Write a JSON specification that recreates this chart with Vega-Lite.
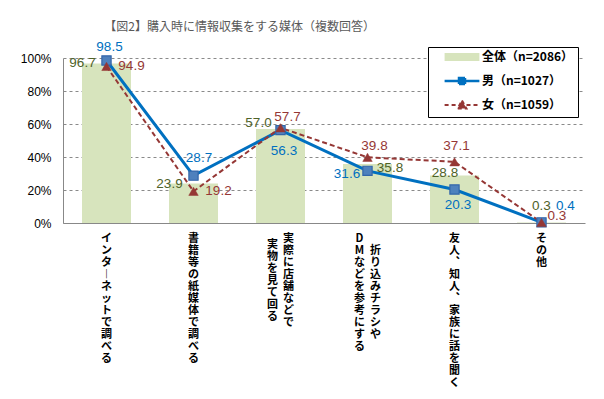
{
  "$schema": "https://vega.github.io/schema/vega-lite/v6.json",
  "width": 522,
  "height": 165,
  "autosize": {"type": "none"},
  "padding": {"left": 63, "top": 58, "right": 19, "bottom": 176},
  "background": "white",
  "title": {
    "text": "【図2】購入時に情報収集をする媒体（複数回答）",
    "anchor": "start",
    "dx": 84,
    "offset": 6,
    "font": "Noto Sans CJK JP",
    "fontSize": 12,
    "fontWeight": "normal",
    "color": "#595959"
  },
  "config": {"view": {"stroke": null}},
  "datasets": {
    "main": [
      {"cat": "インターネットで調べる", "series": "全体", "value": 96.7},
      {"cat": "書籍等の紙媒体で調べる", "series": "全体", "value": 23.9},
      {"cat": "実際に店舗などで実物を見て回る", "series": "全体", "value": 57.0},
      {"cat": "折り込みチラシやDMなどを参考にする", "series": "全体", "value": 35.8},
      {"cat": "友人、知人、家族に話を聞く", "series": "全体", "value": 28.8},
      {"cat": "その他", "series": "全体", "value": 0.3},
      {"cat": "インターネットで調べる", "series": "男", "value": 98.5},
      {"cat": "書籍等の紙媒体で調べる", "series": "男", "value": 28.7},
      {"cat": "実際に店舗などで実物を見て回る", "series": "男", "value": 56.3},
      {"cat": "折り込みチラシやDMなどを参考にする", "series": "男", "value": 31.6},
      {"cat": "友人、知人、家族に話を聞く", "series": "男", "value": 20.3},
      {"cat": "その他", "series": "男", "value": 0.4},
      {"cat": "インターネットで調べる", "series": "女", "value": 94.9},
      {"cat": "書籍等の紙媒体で調べる", "series": "女", "value": 19.2},
      {"cat": "実際に店舗などで実物を見て回る", "series": "女", "value": 57.7},
      {"cat": "折り込みチラシやDMなどを参考にする", "series": "女", "value": 39.8},
      {"cat": "友人、知人、家族に話を聞く", "series": "女", "value": 37.1},
      {"cat": "その他", "series": "女", "value": 0.3}
    ],
    "catlabels": [
      {"cat": "インターネットで調べる", "col1": "インターネットで調べる", "col2": ""},
      {"cat": "書籍等の紙媒体で調べる", "col1": "書籍等の紙媒体で調べる", "col2": ""},
      {"cat": "実際に店舗などで実物を見て回る", "col1": "実際に店舗などで", "col2": "実物を見て回る"},
      {"cat": "折り込みチラシやDMなどを参考にする", "col1": "折り込みチラシや", "col2": "DMなどを参考にする"},
      {"cat": "友人、知人、家族に話を聞く", "col1": "友人、知人、家族に話を聞く", "col2": ""},
      {"cat": "その他", "col1": "その他", "col2": ""}
    ]
  },
  "data": {"name": "main"},
  "encoding": {
    "x": {
      "field": "cat",
      "type": "nominal",
      "scale": {
        "domain": ["インターネットで調べる", "書籍等の紙媒体で調べる", "実際に店舗などで実物を見て回る", "折り込みチラシやDMなどを参考にする", "友人、知人、家族に話を聞く", "その他"],
        "paddingInner": 0.437,
        "paddingOuter": 0.2185
      },
      "axis": {"title": null, "labels": false, "ticks": false, "grid": false, "domainColor": "#888888", "domainWidth": 1}
    },
    "y": {
      "field": "value",
      "type": "quantitative",
      "scale": {"domain": [0, 100], "nice": false},
      "axis": {
        "title": null,
        "values": [0, 20, 40, 60, 80, 100],
        "labelExpr": "datum.value + '%'",
        "ticks": false,
        "labelPadding": 12,
        "labelFont": "Liberation Sans",
        "labelFontSize": 12,
        "labelColor": "#000000",
        "domainColor": "#888888",
        "grid": true,
        "gridDash": [3, 3],
        "gridColor": "#8a8a8a"
      }
    }
  },
  "layer": [
    {
      "transform": [{"filter": "datum.series == '全体'"}],
      "mark": {"type": "bar"},
      "encoding": {
        "color": {
          "field": "series",
          "type": "nominal",
          "scale": {"domain": ["全体", "男", "女"], "range": ["#D7E4BD", "#0070C0", "#953735"]},
          "legend": {
            "title": null,
            "orient": "none",
            "legendX": 365,
            "legendY": -11,
            "padding": 4,
            "rowPadding": 7,
            "symbolSize": 144,
            "labelOffset": 38,
            "labelFont": "Noto Sans CJK JP",
            "labelFontSize": 12,
            "labelFontWeight": "bold",
            "labelColor": "#000000",
            "labelLimit": 300,
            "fillColor": "#ffffff",
            "strokeColor": "#000000",
            "labelExpr": "datum.label == '全体' ? '全体（n=2086）' : datum.label == '男' ? '男（n=1027）' : '女（n=1059）'",
            "encode": {
              "symbols": {
                "update": {
                  "shape": {"signal": "datum.value == '全体' ? 'M1.1,-0.67H6.9V0.67H1.1Z' : datum.value == '男' ? 'M1.1,0H3.5M4.5,0H6.9M3.5,-0.5H4.5V0.5H3.5Z' : 'M1.1,0H3.25M4.75,0H6.9M4,-0.75L4.75,0.6H3.25Z'"},
                  "size": {"value": 144},
                  "fill": {"signal": "datum.value == '全体' ? '#D7E4BD' : datum.value == '男' ? '#4F81BD' : '#953735'"},
                  "stroke": {"signal": "datum.value == '全体' ? 'transparent' : datum.value == '男' ? '#0070C0' : '#953735'"},
                  "strokeWidth": {"signal": "datum.value == '男' ? 2.5 : 2"},
                  "strokeDash": {"signal": "datum.value == '女' ? [4, 3] : [1, 0]"},
                  "opacity": {"value": 1},
                  "fillOpacity": {"value": 1}
                }
              }
            }
          }
        }
      }
    },
    {
      "transform": [{"filter": "datum.series == '男'"}],
      "mark": {"type": "line", "color": "#0070C0", "strokeWidth": 3},
      "encoding": {}
    },
    {
      "transform": [{"filter": "datum.series == '女'"}],
      "mark": {"type": "line", "color": "#953735", "strokeWidth": 2, "strokeDash": [5, 3]},
      "encoding": {}
    },
    {
      "transform": [{"filter": "datum.series == '男'"}],
      "mark": {"type": "point", "shape": "square", "size": 85, "fill": "#4F81BD", "stroke": "#3366AA", "strokeWidth": 1.2, "opacity": 1},
      "encoding": {}
    },
    {
      "transform": [{"filter": "datum.series == '女'"}],
      "mark": {"type": "point", "shape": "triangle-up", "size": 90, "fill": "#953735", "stroke": "#953735", "strokeWidth": 0.5, "opacity": 1},
      "encoding": {}
    },
    {
      "transform": [{"filter": "datum.series == '全体' && (datum.cat == 'インターネットで調べる' || datum.cat == '書籍等の紙媒体で調べる')"}],
      "mark": {"type": "text", "font": "Liberation Sans", "fontSize": 13.5, "color": "#4F6228", "dx": -24, "dy": 0},
      "encoding": {"text": {"field": "value", "type": "quantitative", "format": ".1f"}}
    },
    {
      "transform": [{"filter": "datum.series == '全体' && datum.cat == '実際に店舗などで実物を見て回る'"}],
      "mark": {"type": "text", "font": "Liberation Sans", "fontSize": 13.5, "color": "#4F6228", "dx": -22, "dy": -6},
      "encoding": {"text": {"field": "value", "type": "quantitative", "format": ".1f"}}
    },
    {
      "transform": [{"filter": "datum.series == '全体' && datum.cat == '折り込みチラシやDMなどを参考にする'"}],
      "mark": {"type": "text", "font": "Liberation Sans", "fontSize": 13.5, "color": "#4F6228", "dx": 22.5, "dy": 4},
      "encoding": {"text": {"field": "value", "type": "quantitative", "format": ".1f"}}
    },
    {
      "transform": [{"filter": "datum.series == '全体' && datum.cat == '友人、知人、家族に話を聞く'"}],
      "mark": {"type": "text", "font": "Liberation Sans", "fontSize": 13.5, "color": "#4F6228", "dx": -9.5, "dy": -2.5},
      "encoding": {"text": {"field": "value", "type": "quantitative", "format": ".1f"}}
    },
    {
      "transform": [{"filter": "datum.series == '全体' && datum.cat == 'その他'"}],
      "mark": {"type": "text", "font": "Liberation Sans", "fontSize": 13.5, "color": "#4F6228", "dx": 0, "dy": -16.5},
      "encoding": {"text": {"field": "value", "type": "quantitative", "format": ".1f"}}
    },
    {
      "transform": [{"filter": "datum.series == '男' && datum.cat == 'インターネットで調べる'"}],
      "mark": {"type": "text", "font": "Liberation Sans", "fontSize": 13.5, "color": "#0070C0", "dx": 3, "dy": -13.5},
      "encoding": {"text": {"field": "value", "type": "quantitative", "format": ".1f"}}
    },
    {
      "transform": [{"filter": "datum.series == '男' && datum.cat == '書籍等の紙媒体で調べる'"}],
      "mark": {"type": "text", "font": "Liberation Sans", "fontSize": 13.5, "color": "#0070C0", "dx": 5.5, "dy": -17.5},
      "encoding": {"text": {"field": "value", "type": "quantitative", "format": ".1f"}}
    },
    {
      "transform": [{"filter": "datum.series == '男' && datum.cat == '実際に店舗などで実物を見て回る'"}],
      "mark": {"type": "text", "font": "Liberation Sans", "fontSize": 13.5, "color": "#0070C0", "dx": 3.5, "dy": 21},
      "encoding": {"text": {"field": "value", "type": "quantitative", "format": ".1f"}}
    },
    {
      "transform": [{"filter": "datum.series == '男' && datum.cat == '折り込みチラシやDMなどを参考にする'"}],
      "mark": {"type": "text", "font": "Liberation Sans", "fontSize": 13.5, "color": "#0070C0", "dx": -20.5, "dy": 3},
      "encoding": {"text": {"field": "value", "type": "quantitative", "format": ".1f"}}
    },
    {
      "transform": [{"filter": "datum.series == '男' && datum.cat == '友人、知人、家族に話を聞く'"}],
      "mark": {"type": "text", "font": "Liberation Sans", "fontSize": 13.5, "color": "#0070C0", "dx": 3.5, "dy": 15.5},
      "encoding": {"text": {"field": "value", "type": "quantitative", "format": ".1f"}}
    },
    {
      "transform": [{"filter": "datum.series == '男' && datum.cat == 'その他'"}],
      "mark": {"type": "text", "font": "Liberation Sans", "fontSize": 13.5, "color": "#0070C0", "dx": 24, "dy": -16},
      "encoding": {"text": {"field": "value", "type": "quantitative", "format": ".1f"}}
    },
    {
      "transform": [{"filter": "datum.series == '女' && (datum.cat == 'インターネットで調べる' || datum.cat == '書籍等の紙媒体で調べる')"}],
      "mark": {"type": "text", "font": "Liberation Sans", "fontSize": 13.5, "color": "#953735", "dx": 25, "dy": 0},
      "encoding": {"text": {"field": "value", "type": "quantitative", "format": ".1f"}}
    },
    {
      "transform": [{"filter": "datum.series == '女' && (datum.cat == '実際に店舗などで実物を見て回る' || datum.cat == '折り込みチラシやDMなどを参考にする')"}],
      "mark": {"type": "text", "font": "Liberation Sans", "fontSize": 13.5, "color": "#953735", "dx": 7, "dy": -11},
      "encoding": {"text": {"field": "value", "type": "quantitative", "format": ".1f"}}
    },
    {
      "transform": [{"filter": "datum.series == '女' && datum.cat == '友人、知人、家族に話を聞く'"}],
      "mark": {"type": "text", "font": "Liberation Sans", "fontSize": 13.5, "color": "#953735", "dx": 2, "dy": -16},
      "encoding": {"text": {"field": "value", "type": "quantitative", "format": ".1f"}}
    },
    {
      "transform": [{"filter": "datum.series == '女' && datum.cat == 'その他'"}],
      "mark": {"type": "text", "font": "Liberation Sans", "fontSize": 13.5, "color": "#953735", "dx": 15.5, "dy": -6.5},
      "encoding": {"text": {"field": "value", "type": "quantitative", "format": ".1f"}}
    },
    {
      "transform": [
        {"filter": "datum.series == '全体' && datum.cat != '実際に店舗などで実物を見て回る' && datum.cat != '折り込みチラシやDMなどを参考にする'"},
        {"lookup": "cat", "from": {"data": {"name": "catlabels"}, "key": "cat", "fields": ["col1", "col2"]}},
        {"calculate": "split(replace(replace(datum.col1, regexp('ー', 'g'), '︱'), regexp('、', 'g'), '︑'), '')", "as": "lines"}
      ],
      "mark": {"type": "text", "baseline": "top", "dy": 10, "font": "Noto Sans CJK JP", "fontSize": 11, "fontWeight": "bold", "lineHeight": 12, "color": "#000000"},
      "encoding": {"y": {"datum": 0, "type": "quantitative"}, "text": {"field": "lines", "type": "nominal"}}
    },
    {
      "transform": [
        {"filter": "datum.series == '全体' && datum.cat == '実際に店舗などで実物を見て回る'"},
        {"lookup": "cat", "from": {"data": {"name": "catlabels"}, "key": "cat", "fields": ["col1", "col2"]}},
        {"calculate": "split(datum.col1, '')", "as": "lines"}
      ],
      "mark": {"type": "text", "baseline": "top", "dx": 8, "dy": 10, "font": "Noto Sans CJK JP", "fontSize": 11, "fontWeight": "bold", "lineHeight": 12, "color": "#000000"},
      "encoding": {"y": {"datum": 0, "type": "quantitative"}, "text": {"field": "lines", "type": "nominal"}}
    },
    {
      "transform": [
        {"filter": "datum.series == '全体' && datum.cat == '実際に店舗などで実物を見て回る'"},
        {"lookup": "cat", "from": {"data": {"name": "catlabels"}, "key": "cat", "fields": ["col1", "col2"]}},
        {"calculate": "split(datum.col2, '')", "as": "lines"}
      ],
      "mark": {"type": "text", "baseline": "top", "dx": -8, "dy": 16, "font": "Noto Sans CJK JP", "fontSize": 11, "fontWeight": "bold", "lineHeight": 12, "color": "#000000"},
      "encoding": {"y": {"datum": 0, "type": "quantitative"}, "text": {"field": "lines", "type": "nominal"}}
    },
    {
      "transform": [
        {"filter": "datum.series == '全体' && datum.cat == '折り込みチラシやDMなどを参考にする'"},
        {"lookup": "cat", "from": {"data": {"name": "catlabels"}, "key": "cat", "fields": ["col1", "col2"]}},
        {"calculate": "split(datum.col1, '')", "as": "lines"}
      ],
      "mark": {"type": "text", "baseline": "top", "dx": 8, "dy": 22, "font": "Noto Sans CJK JP", "fontSize": 11, "fontWeight": "bold", "lineHeight": 12, "color": "#000000"},
      "encoding": {"y": {"datum": 0, "type": "quantitative"}, "text": {"field": "lines", "type": "nominal"}}
    },
    {
      "transform": [
        {"filter": "datum.series == '全体' && datum.cat == '折り込みチラシやDMなどを参考にする'"},
        {"lookup": "cat", "from": {"data": {"name": "catlabels"}, "key": "cat", "fields": ["col1", "col2"]}},
        {"calculate": "split(datum.col2, '')", "as": "lines"}
      ],
      "mark": {"type": "text", "baseline": "top", "dx": -8, "dy": 10, "font": "Noto Sans CJK JP", "fontSize": 11, "fontWeight": "bold", "lineHeight": 12, "color": "#000000"},
      "encoding": {"y": {"datum": 0, "type": "quantitative"}, "text": {"field": "lines", "type": "nominal"}}
    }
  ]
}
